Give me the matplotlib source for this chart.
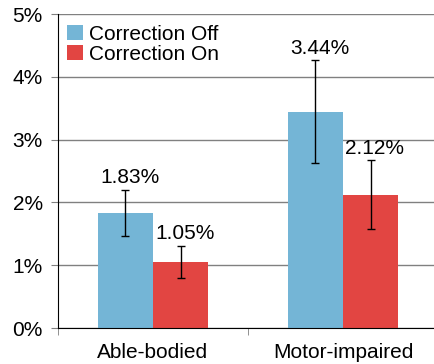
import matplotlib.pyplot as plt
import numpy as np

plt.rcParams['font.family'] = ['Liberation Sans', 'DejaVu Sans']

groups = ['Able-bodied', 'Motor-impaired']
series = ['Correction Off', 'Correction On']
off_vals = [1.83, 3.44]
on_vals = [1.05, 2.12]
off_err = [0.37, 0.82]
on_err = [0.26, 0.55]
colors = ['#74b5d6', '#e24542']

fig = plt.figure(figsize=(4.34, 3.64), dpi=100)
ax = fig.add_axes([58 / 434, 36 / 364, 376 / 434, 314 / 364])

fs = 15
x = np.arange(len(groups))
w = 0.29
for vals, errs, off, col, lab in [(off_vals, off_err, -w / 2, colors[0], series[0]),
                                  (on_vals, on_err, w / 2, colors[1], series[1])]:
    ax.bar(x + off, vals, w, color=col, label=lab, zorder=2)
    ax.errorbar(x + off, vals, yerr=errs, fmt='none', ecolor='black',
                elinewidth=1, capsize=3, capthick=1, zorder=3)
    for xi, v, e in zip(x + off, vals, errs):
        ax.annotate(f'{v:.2f}%', (xi, v + e), xytext=(3, 2), textcoords='offset points',
                    ha='center', va='bottom', fontsize=fs)

ax.set_ylim(0, 5)
ax.set_xlim(-0.5, 1.479)
ax.set_yticks(range(6))
ax.set_yticklabels([f'{i}%' for i in range(6)], fontsize=fs)
ax.yaxis.grid(True, color='#808080', linewidth=1, zorder=0)
ax.set_axisbelow(True)

ax.set_xticks(x)
ax.set_xticklabels(groups, fontsize=fs)
ax.set_xticks([-0.5, 0.5], minor=True)
ax.tick_params(axis='x', which='major', length=0, pad=11)
ax.tick_params(axis='x', which='minor', length=5, direction='out', color='#808080')
ax.tick_params(axis='y', length=5, direction='out', color='#808080', pad=6)

for s in ['top', 'right']:
    ax.spines[s].set_visible(False)
ax.spines['left'].set_color('black')
ax.spines['bottom'].set_color('black')

ax.legend(loc='upper left', frameon=False, fontsize=fs, handlelength=0.75,
          handleheight=0.75, handletextpad=0.3, labelspacing=0.05,
          borderpad=0, borderaxespad=0, bbox_to_anchor=(9 / 376, 1 - 11 / 314))

fig.savefig('out.png', dpi=100)
